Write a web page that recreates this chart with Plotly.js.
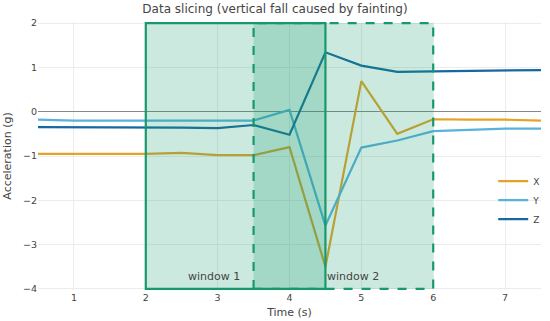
<!DOCTYPE html>
<html>
<head>
<meta charset="utf-8">
<script src="https://cdn.plot.ly/plotly-3.0.1.min.js"></script>
<style>html,body{margin:0;padding:0;background:#fff;}#chart{width:550px;height:321px;}</style>
</head>
<body>
<div id="chart"></div>
<script>
const time = [0.5, 1, 1.5, 2, 2.5, 3, 3.5, 4, 4.5, 5, 5.5, 6, 6.5, 7, 7.5];
const accX = [-0.95, -0.95, -0.95, -0.95, -0.93, -0.98, -0.98, -0.8, -3.5, 0.69, -0.5, -0.17, -0.18, -0.18, -0.2];
const accY = [-0.18, -0.2, -0.2, -0.2, -0.2, -0.19, -0.2, 0.04, -2.57, -0.81, -0.65, -0.44, -0.41, -0.38, -0.38];
const accZ = [-0.35, -0.35, -0.36, -0.36, -0.36, -0.37, -0.3, -0.52, 1.34, 1.04, 0.9, 0.91, 0.92, 0.93, 0.94];
const seriesNames = ['X', 'Y', 'Z'];
const windows = [
  {name: 'window 1', start: 2, end: 4.5, dash: 'solid', labelX: 2.95},
  {name: 'window 2', start: 3.5, end: 6, dash: 'dash', labelX: 4.88}
];
const colors = ['#E3A326', '#58B2DC', '#1568A0'];
const green = '#17996C';

const traces = [accX, accY, accZ].map((v, i) => ({
  x: time, y: v, type: 'scatter', mode: 'lines', name: seriesNames[i],
  line: {color: colors[i], width: 2.2}, cliponaxis: false
}));

const shapes = windows.map(w => ({
  type: 'rect', xref: 'x', yref: 'y', x0: w.start, x1: w.end, y0: -4, y1: 2,
  fillcolor: 'rgba(23,153,108,0.22)', layer: 'above',
  line: {color: green, width: 2.2, dash: w.dash}
}));
const annotations = windows.map(w => ({
  x: w.labelX, y: -3.72, xref: 'x', yref: 'y', text: w.name, showarrow: false,
  font: {size: 11, color: '#444'}
}));

const layout = {
  width: 550, height: 321,
  margin: {l: 38, r: 5, t: 22, b: 31},
  paper_bgcolor: '#fff', plot_bgcolor: '#fff',
  font: {family: 'DejaVu Sans, Verdana, sans-serif', size: 9.5, color: '#444'},
  title: {text: 'Data slicing (vertical fall caused by fainting)', x: 0.5, xanchor: 'center', y: 0.985, yanchor: 'top', font: {size: 12, color: '#444'}},
  xaxis: {range: [0.5, 7.5], tickvals: [1,2,3,4,5,6,7], showgrid: true, gridcolor: '#ececec', zeroline: false,
    showline: false, ticks: '', title: {text: 'Time (s)', font: {size: 11}, standoff: 6}},
  yaxis: {range: [-4.025, 2.025], tickvals: [-4,-3,-2,-1,0,1,2], showgrid: true, gridcolor: '#ececec',
    zeroline: true, zerolinecolor: '#888', zerolinewidth: 1.5, showline: false, ticks: '',
    title: {text: 'Acceleration (g)', font: {size: 11}, standoff: 9}},
  showlegend: true,
  legend: {x: 0.905, y: 0.46, xanchor: 'left', yanchor: 'top', bgcolor: 'rgba(0,0,0,0)', font: {size: 9}, tracegroupgap: 0},
  shapes: shapes, annotations: annotations
};
Plotly.newPlot('chart', traces, layout, {displayModeBar: false, staticPlot: true});
</script>
</body>
</html>
